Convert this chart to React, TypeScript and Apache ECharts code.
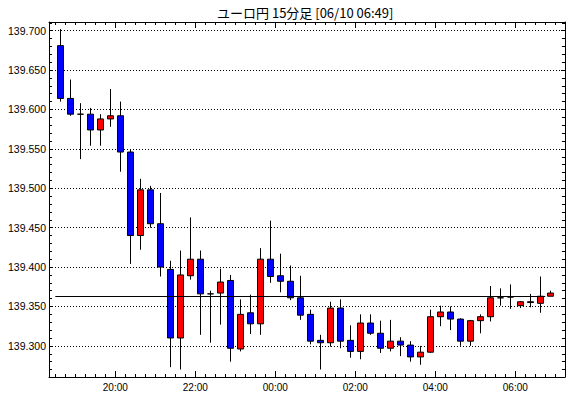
import React, { useEffect, useRef } from 'react';
import * as echarts from 'echarts';

const TITLE = 'ユーロ円 15分足 [06/10 06:49]';
const FIRST_SLOT_HOUR = 18.5; // 18:30
const SLOT_HOURS = 0.25; // 15 minutes

const opens = [
  139.681, 139.614, 139.594, 139.594, 139.574, 139.588, 139.592, 139.546, 139.44, 139.498,
  139.455, 139.397, 139.31, 139.389, 139.41, 139.366, 139.367, 139.383, 139.296, 139.342,
  139.328, 139.41, 139.389, 139.382, 139.361, 139.34, 139.307, 139.304, 139.348, 139.307,
  139.293, 139.329, 139.316, 139.297, 139.306, 139.301, 139.286, 139.292, 139.337, 139.343,
  139.334, 139.306, 139.332, 139.337, 139.361, 139.362, 139.351, 139.355, 139.354, 139.363,
];
const closes = [
  139.614, 139.594, 139.594, 139.574, 139.588, 139.592, 139.546, 139.44, 139.498, 139.455,
  139.4, 139.31, 139.39, 139.41, 139.366, 139.366, 139.381, 139.297, 139.34, 139.328,
  139.41, 139.388, 139.382, 139.361, 139.339, 139.306, 139.304, 139.348, 139.306, 139.293,
  139.329, 139.316, 139.297, 139.306, 139.301, 139.286, 139.292, 139.337, 139.343, 139.334,
  139.306, 139.332, 139.337, 139.361, 139.361, 139.362, 139.356, 139.356, 139.363, 139.367,
];
const lows = [
  139.61, 139.592, 139.537, 139.554, 139.554, 139.578, 139.521, 139.404, 139.422, 139.45,
  139.388, 139.273, 139.27, 139.384, 139.314, 139.304, 139.327, 139.28, 139.293, 139.315,
  139.314, 139.38, 139.368, 139.358, 139.333, 139.302, 139.27, 139.299, 139.297, 139.285,
  139.283, 139.314, 139.291, 139.293, 139.287, 139.28, 139.276, 139.291, 139.325, 139.32,
  139.3, 139.3, 139.316, 139.331, 139.351, 139.347, 139.348, 139.349, 139.342, 139.363,
];
const highs = [
  139.702, 139.638, 139.608, 139.602, 139.594, 139.626, 139.61, 139.549, 139.512, 139.503,
  139.494, 139.408, 139.421, 139.463, 139.421, 139.37, 139.398, 139.39, 139.359, 139.365,
  139.424, 139.459, 139.417, 139.402, 139.389, 139.346, 139.314, 139.356, 139.359, 139.326,
  139.34, 139.34, 139.332, 139.333, 139.311, 139.306, 139.3, 139.346, 139.351, 139.35,
  139.335, 139.333, 139.34, 139.376, 139.373, 139.378, 139.357, 139.366, 139.388, 139.37,
];

const yTickValues = [139.3, 139.35, 139.4, 139.45, 139.5, 139.55, 139.6, 139.65, 139.7];
const xTickHours = [20, 22, 24, 26, 28, 30];
const xTickLabels = ['20:00', '22:00', '00:00', '02:00', '04:00', '06:00'];

const refPrice = 139.3636;
const refFromHour = 18.5;
const refToHour = 30.75;

const X_MIN = 18.3425;
const X_MAX = 31.2425;
const Y_MIN = 139.2605;
const Y_MAX = 139.711;

export default function App() {
  const ref = useRef<HTMLDivElement>(null);
  useEffect(() => {
    if (!ref.current) return;
    const chart = echarts.init(ref.current, null, { renderer: 'svg' });

    const candles = opens.map((o, i) => [
      FIRST_SLOT_HOUR + (i + 0.5) * SLOT_HOURS,
      o,
      closes[i],
      lows[i],
      highs[i],
    ]);

    const minorX: number[] = [];
    for (let h = 18.5; h <= 31.25 + 1e-9; h += SLOT_HOURS) minorX.push(+h.toFixed(4));
    const minorY: number[] = [];
    for (let v = 139.27; v <= 139.71 + 1e-9; v += 0.01) minorY.push(+v.toFixed(3));

    const labelFont = { fontFamily: 'Liberation Sans, Arial, sans-serif', color: '#000' };

    const xBase = (position: 'top' | 'bottom', values: number[], len: number, showLine: boolean, showLabel: boolean) => ({
      type: 'value',
      position,
      min: X_MIN,
      max: X_MAX,
      axisLine: { show: showLine, onZero: false, lineStyle: { color: '#000', width: 1 } },
      axisTick: { show: true, inside: true, length: len, customValues: values, lineStyle: { color: '#000', width: 1 } },
      axisLabel: showLabel
        ? {
            show: true,
            customValues: xTickHours,
            margin: 5,
            fontSize: 10,
            ...labelFont,
            formatter: (v: number) => {
              const idx = xTickHours.findIndex((h) => Math.abs(h - v) < 1e-6);
              return idx >= 0 ? xTickLabels[idx] : '';
            },
          }
        : { show: false },
      splitLine: { show: false },
    });

    const yBase = (position: 'left' | 'right', values: number[], len: number, showLine: boolean, showLabel: boolean, split: boolean) => ({
      type: 'value',
      position,
      min: Y_MIN,
      max: Y_MAX,
      scale: true,
      axisLine: { show: showLine, onZero: false, lineStyle: { color: '#000', width: 1 } },
      axisTick: { show: true, inside: true, length: len, customValues: values, lineStyle: { color: '#000', width: 1 } },
      axisLabel: showLabel
        ? {
            show: true,
            customValues: yTickValues,
            margin: 3,
            fontSize: 10.5,
            ...labelFont,
            formatter: (v: number) => v.toFixed(3),
          }
        : { show: false },
      splitLine: split
        ? { show: true, lineStyle: { color: '#000', width: 1, type: [1, 2] } }
        : { show: false },
    });

    chart.setOption({
      animation: false,
      backgroundColor: '#fff',
      title: {
        text: TITLE,
        left: 217,
        top: 6,
        padding: 0,
        textStyle: {
          fontFamily: 'Noto Sans CJK JP, sans-serif',
          fontSize: 13,
          fontWeight: 'normal',
          color: '#000',
        },
      },
      grid: { left: 49, right: 5, top: 22, bottom: 21, containLabel: false },
      xAxis: [
        xBase('bottom', xTickHours, 6, true, true),
        xBase('bottom', minorX, 3, false, false),
        xBase('top', xTickHours, 6, true, false),
        xBase('top', minorX, 3, false, false),
      ],
      yAxis: [
        yBase('left', yTickValues, 4, true, true, true),
        yBase('left', minorY, 3, false, false, false),
        yBase('right', yTickValues, 4, true, false, false),
        yBase('right', minorY, 3, false, false, false),
      ],
      series: [
        {
          type: 'candlestick',
          xAxisIndex: 0,
          yAxisIndex: 0,
          data: candles,
          barWidth: 6,
          itemStyle: {
            color: '#ff0000',
            color0: '#0000ff',
            borderColor: '#000',
            borderColor0: '#000',
            borderColorDoji: '#000',
            borderWidth: 1,
          },
          markLine: {
            silent: true,
            symbol: ['none', 'none'],
            label: { show: false },
            lineStyle: { color: '#000', width: 1, type: 'solid' },
            data: [
              [
                { coord: [refFromHour, refPrice] },
                { coord: [refToHour, refPrice] },
              ],
            ],
          },
        },
      ],
    });
    return () => chart.dispose();
  }, []);
  return (
    <div
      ref={ref}
      style={{ position: 'fixed', left: 0, top: 0, width: 570, height: 398, background: '#fff' }}
    />
  );
}
